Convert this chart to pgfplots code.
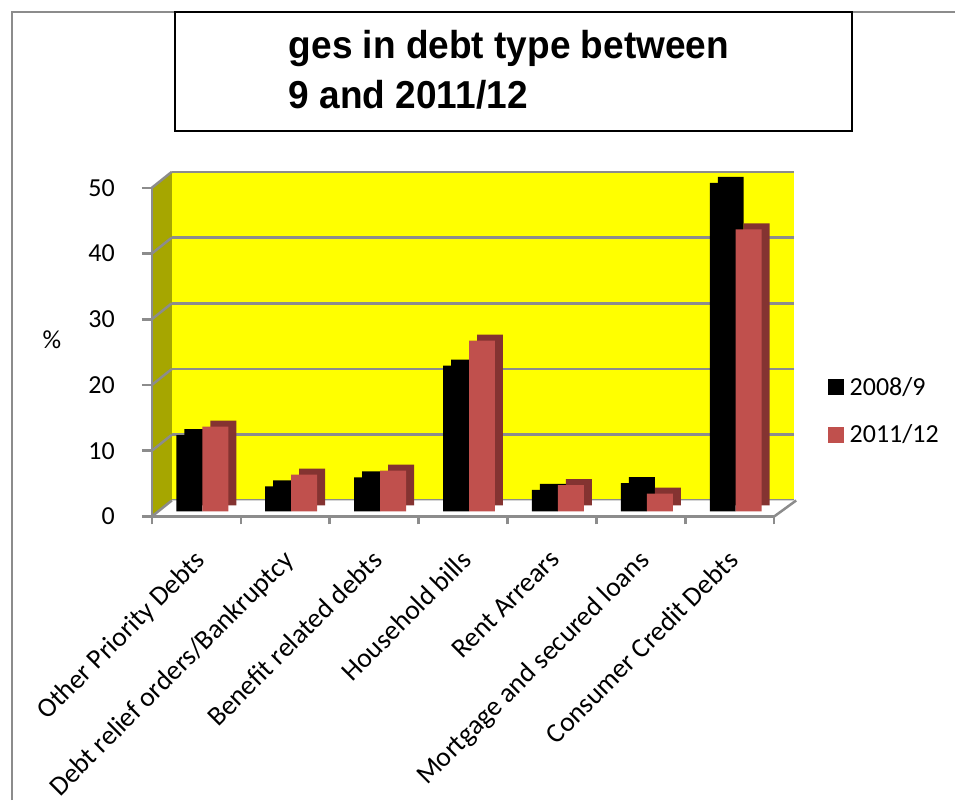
\documentclass[border=0pt]{standalone}
\usepackage{pgfplots}
\usepackage{pgfplotstable}
\pgfplotsset{compat=1.18}
\usepackage{fontspec}
\setmainfont{Carlito}
\newfontfamily\titlefont{Liberation Sans}[FakeStretch=0.95]
\definecolor{wallyellow}{HTML}{FFFF00}
\definecolor{wallolive}{HTML}{A6A600}
\definecolor{gridgray}{HTML}{8C8C8C}
\definecolor{redbar}{HTML}{C0504D}
\definecolor{reddepth}{HTML}{843331}

\pgfplotstableread{
x y
0 11.6
1 3.8
2 5.2
3 22.2
4 3.3
5 4.3
6 50.0
}\blackdata
\pgfplotstableread{
x y
0 12.9
1 5.6
2 6.2
3 26.0
4 4.0
5 2.7
6 42.9
}\reddata

\pgfplotsset{
  base/.style={scale only axis, width=623pt, height=329pt,
    xmin=-0.5, xmax=6.5, ymin=0, ymax=50, anchor=south west},
  bars/.style={base, hide axis, clip=false},
}

\begin{document}
\begin{tikzpicture}[x=1pt,y=1pt]
\path (0,0) rectangle (956,801);
% outer frame
\draw[gridgray, line width=2pt] (12,0) -- (12,789) -- (956,789);
% title box
\draw[black, line width=2pt, fill=white] (175,789) rectangle (853,670);
\node[anchor=base west, inner sep=0pt, font=\titlefont\bfseries\fontsize{39}{43}\selectfont] at (289,742) {ges in debt type between};
\node[anchor=base west, inner sep=0pt, font=\titlefont\bfseries\fontsize{39}{43}\selectfont] at (289,692) {9 and 2011/12};

% back wall
\begin{axis}[base, at={(172pt,300pt)},
  axis background/.style={fill=wallyellow},
  axis line style={draw=none}, tick style={draw=none},
  xticklabels={}, yticklabels={}, xtick=\empty,
  ytick={0,10,...,50}, ymajorgrids,
  grid style={gridgray, line width=2.5pt}]
\end{axis}

% left wall and floor
\fill[wallolive] (152,284) -- (172,300) -- (172,629) -- (152,613) -- cycle;
\fill[white] (152,284) -- (775,284) -- (797,300) -- (172,300) -- cycle;
\foreach \k in {0,...,5} {
  \draw[gridgray, line width=2.5pt] (152,284+65.8*\k) -- (172,300+65.8*\k);
}
\draw[gridgray, line width=2.5pt] (775,284) -- (797,300);

% black bars: depth then front
\begin{axis}[bars, at={(166pt,295pt)}]
\addplot[ybar, bar width=26pt, bar shift=-13pt, fill=black, draw=none] table[x=x,y=y]{\blackdata};
\end{axis}
\begin{axis}[bars, at={(158pt,289pt)}]
\addplot[ybar, bar width=26pt, bar shift=-13pt, fill=black, draw=none] table[x=x,y=y]{\blackdata};
\end{axis}
% red bars: depth then front
\begin{axis}[bars, at={(166pt,295pt)}]
\addplot[ybar, bar width=26pt, bar shift=13pt, fill=reddepth, draw=none] table[x=x,y=y]{\reddata};
\end{axis}
\begin{axis}[bars, at={(158pt,289pt)}]
\addplot[ybar, bar width=26pt, bar shift=13pt, fill=redbar, draw=none] table[x=x,y=y]{\reddata};
\end{axis}

% front axis with ticks, labels, legend
\begin{axis}[base, at={(152pt,284pt)},
  axis x line*=bottom, axis y line*=left,
  axis line style={gridgray, line width=2.5pt},
  /pgf/number format/assume math mode=true,
  xtick={0,...,6},
  xticklabels={Other Priority Debts, Debt relief orders/Bankruptcy, Benefit related debts, Household bills, Rent Arrears, Mortgage and secured loans, Consumer Credit Debts},
  minor xtick={-0.5,0.5,...,6.5},
  major x tick style={draw=none},
  tick align=outside,
  major tick length=10pt, minor tick length=8pt,
  tick style={gridgray, line width=2.5pt},
  ytick={0,10,...,50},
  yticklabel style={font=\fontsize{26}{30}\selectfont, anchor=east, inner sep=0pt, xshift=-27pt},
  xticklabel style={font=\fontsize{27.5}{31}\selectfont, rotate=45, anchor=north east, inner sep=2pt, xshift=-16pt, yshift=-11pt},
  ylabel={\%},
  ylabel style={rotate=-90, at={(axis description cs:-0.1605,0.538)}, anchor=center, font=\fontsize{26}{30}\selectfont},
  legend style={at={(1.0867,0.322)}, anchor=west, draw=none, fill=none,
    font=\fontsize{26}{30}\selectfont, row sep=24pt, inner sep=0pt,
    /tikz/every odd column/.append style={column sep=4pt}},
  legend cell align=left]
\addlegendimage{legend image code/.code={\fill[black] (0pt,-7.5pt) rectangle (15pt,7.5pt);}}
\addlegendentry{2008/9}
\addlegendimage{legend image code/.code={\fill[redbar] (0pt,-7.5pt) rectangle (15pt,7.5pt);}}
\addlegendentry{2011/12}
\end{axis}
\end{tikzpicture}
\end{document}
